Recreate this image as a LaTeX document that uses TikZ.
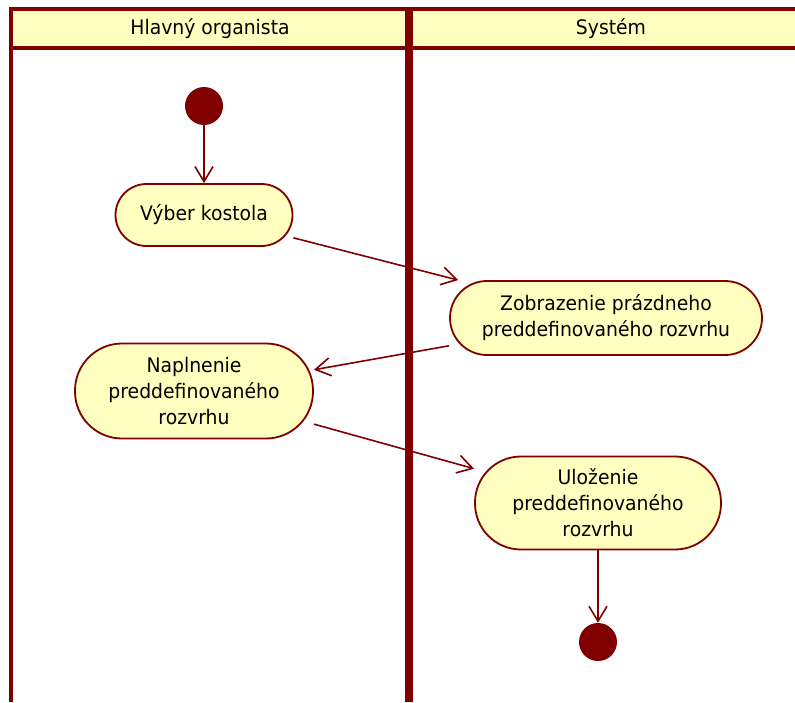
\documentclass[tikz,border=0pt]{standalone}
\usepackage{fontspec}
\setmainfont[FakeStretch=0.94]{DejaVu Sans}
\usetikzlibrary{arrows.meta}
\definecolor{umlred}{HTML}{800000}
\definecolor{umlyellow}{HTML}{FFFFC0}

\begin{document}
\begin{tikzpicture}[x=1pt, y=-1pt,
  activity/.style={draw=umlred, fill=umlyellow, line width=1.8pt, align=center,
    inner sep=0pt, font=\fontsize{20}{26}\selectfont},
  initial/.style={circle, fill=umlred, minimum size=38pt, inner sep=0pt},
  flow/.style={draw=umlred, line width=1.6pt, -{Straight Barb[length=15pt,width=18pt]}},
  lanehead/.style={font=\fontsize{20}{26}\selectfont, inner sep=0pt}]
  \useasboundingbox (0,0) rectangle (795,702);
  \clip (0,0) rectangle (795,702);

  % swimlanes
  \fill[umlyellow] (11,9) rectangle (813,48);
  \draw[umlred, line width=4pt] (11,9) -- (813,9) (11,48) -- (813,48);
  \draw[umlred, line width=3.5pt] (11,7) -- (11,702);
  \draw[umlred, line width=8pt] (409,7) -- (409,702);
  \node[lanehead] (headorg) at (210,29) {Hlavný organista};
  \node[lanehead] (headsys) at (611,29) {Systém};

  % activities
  \node[initial] (start) at (204,106) {};
  \node[activity, minimum width=177pt, minimum height=62pt, rounded corners=31pt] (vyber) at (204,215) {Výber kostola};
  \node[activity, minimum width=312pt, minimum height=74pt, rounded corners=37pt] (zobrazenie) at (606,318) {Zobrazenie prázdneho\\preddefinovaného rozvrhu};
  \node[activity, minimum width=238pt, minimum height=95pt, rounded corners=47pt] (naplnenie) at (194,391) {Naplnenie\\preddefinovaného\\rozvrhu};
  \node[activity, minimum width=246pt, minimum height=93pt, rounded corners=46pt] (ulozenie) at (598,503) {Uloženie\\preddefinovaného\\rozvrhu};
  \node[initial] (stop) at (598,642) {};

  % flows
  \draw[flow] (start) -- (vyber);
  \draw[flow] (vyber) -- (zobrazenie);
  \draw[flow] (zobrazenie) -- (naplnenie);
  \draw[flow] (naplnenie) -- (ulozenie);
  \draw[flow] (ulozenie) -- (stop);
\end{tikzpicture}
\end{document}
